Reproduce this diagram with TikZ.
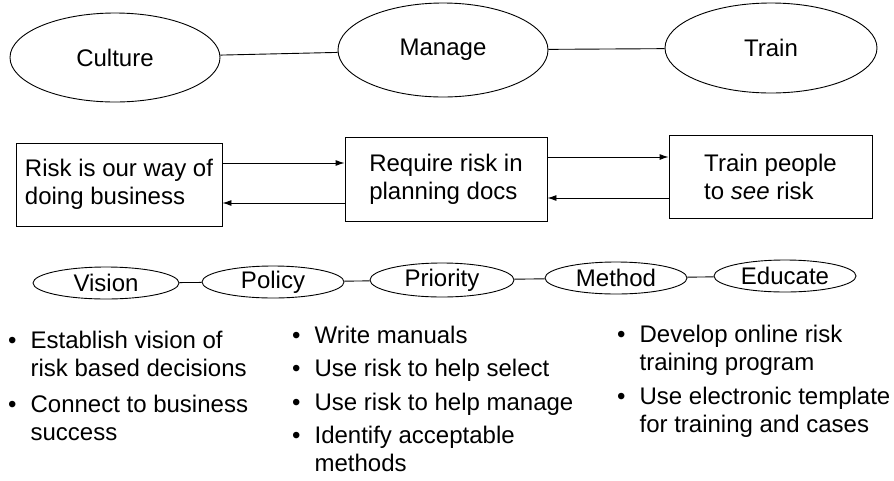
\documentclass[tikz,border=0pt]{standalone}
\usepackage{fontspec}
\setmainfont{Liberation Sans}
\usetikzlibrary{shapes.geometric,arrows.meta}

\begin{document}
\begin{tikzpicture}
        [x=1pt, y=-1pt,
        every node/.style={font=\fontsize{24}{28}\selectfont},
        bubble/.style={ellipse, draw, line width=0.9pt, inner sep=0pt},
        stage/.style={rectangle, draw, line width=0.9pt, inner sep=0pt, align=left},
        edge/.style={line width=0.9pt, black},
        flow/.style={line width=0.9pt, black, -{Latex[length=9pt,width=6pt]}},
        itemlist/.style={anchor=base west, inner sep=0pt}]

        \useasboundingbox (0,0) rectangle (894,480);

        % Top level ellipses
        \node[bubble, minimum width=210pt, minimum height=89pt] (culture) at (115,57.5) {Culture};
        \node[bubble, minimum width=210pt, minimum height=94pt] (manage) at (443,50) {Manage};
        \node[bubble, minimum width=212pt, minimum height=90pt] (train) at (771,48) {Train};

        \draw[edge] (culture) -- (manage);
        \draw[edge] (manage) -- (train);

        % Boxes in the middle row
        \node[stage, minimum width=206pt, minimum height=83pt] (risk) at (119,184.5)
            {Risk is our way of\\doing business};
        \node[stage, minimum width=202pt, minimum height=84pt] (req) at (446,179)
            {Require risk in\\planning docs};
        \node[stage, minimum width=203pt, minimum height=83pt] (people) at (770.5,176.5)
            {Train people\\to \emph{see} risk};

        % arrows between the boxes
        \draw[flow] (risk.east |- 0,163) -- (req.west |- 0,163);
        \draw[flow] (req.west |- 0,203) -- (risk.east |- 0,203);
        \draw[flow] (req.east |- 0,157) -- (people.west |- 0,157);
        \draw[flow] (people.west |- 0,198) -- (req.east |- 0,198);

        % Small ellipses
        \node[bubble, minimum width=146pt, minimum height=32pt] (vision) at (106,283) {Vision};
        \node[bubble, minimum width=142pt, minimum height=32pt] (policy) at (273,282) {Policy};
        \node[bubble, minimum width=144pt, minimum height=34pt] (priority) at (442,280) {Priority};
        \node[bubble, minimum width=142pt, minimum height=32pt] (method) at (616,278) {Method};
        \node[bubble, minimum width=142pt, minimum height=32pt] (educate) at (785,276) {Educate};

        \draw[edge] (vision) -- (policy);
        \draw[edge] (policy) -- (priority);
        \draw[edge] (priority) -- (method);
        \draw[edge] (method) -- (educate);

        % Bullet lists
        \node[itemlist] (visionlist) at (8,348) {\begin{tabular}[t]{@{}l@{\hspace{14pt}}l@{}}
            \textbullet & Establish vision of\\
                        & risk based decisions\\[8pt]
            \textbullet & Connect to business\\
                        & success
        \end{tabular}};
        \node[itemlist] (prioritylist) at (292,343) {\begin{tabular}[t]{@{}l@{\hspace{14pt}}l@{}}
            \textbullet & Write manuals\\[5.5pt]
            \textbullet & Use risk to help select\\[5.5pt]
            \textbullet & Use risk to help manage\\[5.5pt]
            \textbullet & Identify acceptable\\
                        & methods
        \end{tabular}};
        \node[itemlist] (educatelist) at (617,342) {\begin{tabular}[t]{@{}l@{\hspace{14pt}}l@{}}
            \textbullet & Develop online risk\\
                        & training program\\[6pt]
            \textbullet & Use electronic template\\
                        & for training and cases
        \end{tabular}};

    \end{tikzpicture}
\end{document}
